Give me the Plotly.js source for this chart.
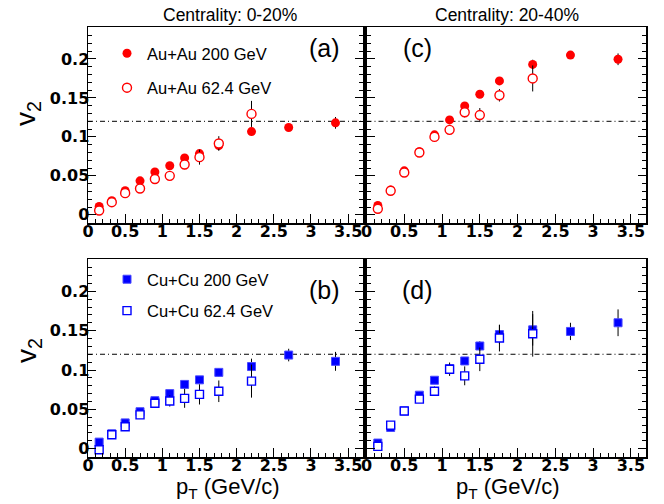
<!DOCTYPE html>
<html>
<head>
<meta charset="utf-8">
<script src="https://cdn.plot.ly/plotly-3.0.1.min.js"></script>
<style>
  html, body { margin: 0; padding: 0; background: #fff; }
  #chart { width: 664px; height: 504px; }
</style>
</head>
<body>
<div id="chart"></div>
<script>
// Transverse momentum bins (GeV/c)
const ptBins = [0.15, 0.32, 0.5, 0.7, 0.9, 1.1, 1.3, 1.5, 1.76, 2.2, 2.7, 3.33];
const ptBins62 = [0.15, 0.32, 0.5, 0.7, 0.9, 1.1, 1.3, 1.5, 1.76, 2.2];

// Au+Au, centrality 0-20%
const auau200_c020 = [0.0107, 0.018, 0.031, 0.0436, 0.055, 0.063, 0.073, 0.0786, 0.0889, 0.1068, 0.112, 0.118];
const auau200_c020_err = [0.001, 0.001, 0.001, 0.001, 0.0015, 0.002, 0.002, 0.003, 0.004, 0.005, 0.004, 0.0075];
const auau62_c020 = [0.0056, 0.0162, 0.0278, 0.0338, 0.046, 0.050, 0.0645, 0.074, 0.0915, 0.1295];
const auau62_c020_err = [0.001, 0.001, 0.0015, 0.002, 0.002, 0.003, 0.006, 0.0096, 0.0094, 0.0167];

// Au+Au, centrality 20-40%
const auau200_c2040 = [0.012, 0.032, 0.0564, 0.081, 0.1026, 0.1218, 0.1397, 0.1547, 0.1718, 0.193, 0.205, 0.1996];
const auau200_c2040_err = [0.001, 0.001, 0.001, 0.001, 0.0015, 0.002, 0.003, 0.003, 0.004, 0.006, 0.004, 0.0075];
const auau62_c2040 = [0.0077, 0.0308, 0.0543, 0.080, 0.100, 0.109, 0.1316, 0.128, 0.1534, 0.175];
const auau62_c2040_err = [0.001, 0.001, 0.0015, 0.002, 0.002, 0.003, 0.0066, 0.009, 0.008, 0.0167];

// Cu+Cu, centrality 0-20%
const cucu200_c020 = [0.0084, 0.019, 0.0328, 0.047, 0.061, 0.070, 0.0817, 0.0875, 0.097, 0.1044, 0.119, 0.111];
const cucu200_c020_err = [0.001, 0.001, 0.0015, 0.002, 0.002, 0.003, 0.003, 0.004, 0.005, 0.01, 0.008, 0.012];
const cucu62_c020 = [-0.0013, 0.0177, 0.028, 0.043, 0.0577, 0.0606, 0.064, 0.069, 0.073, 0.0859];
const cucu62_c020_err = [0.002, 0.002, 0.002, 0.003, 0.004, 0.007, 0.012, 0.0128, 0.0137, 0.021];

// Cu+Cu, centrality 20-40%
const cucu200_c2040 = [0.0072, 0.027, 0.048, 0.068, 0.087, 0.1018, 0.1115, 0.1305, 0.145, 0.151, 0.149, 0.16];
const cucu200_c2040_err = [0.002, 0.002, 0.002, 0.003, 0.003, 0.004, 0.005, 0.006, 0.012, 0.02, 0.011, 0.017];
const cucu62_c2040 = [0.003, 0.030, 0.048, 0.063, 0.073, 0.101, 0.0926, 0.1136, 0.1406, 0.146];
const cucu62_c2040_err = [0.003, 0.003, 0.003, 0.004, 0.006, 0.0085, 0.012, 0.015, 0.017, 0.029];

// Reference level drawn in every panel
const REF_V2 = 0.12;

const seriesNames = ['Au+Au 200 GeV', 'Au+Au 62.4 GeV', 'Cu+Cu 200 GeV', 'Cu+Cu 62.4 GeV'];
const centralityTitles = ['Centrality: 0-20%', 'Centrality: 20-40%'];
const panelTags = ['(a)', '(c)', '(b)', '(d)'];

const RED = '#ff0000';
const BLUE = '#0000ff';

function errBars(arr) {
  return { type: 'data', array: arr, visible: true, color: '#000', thickness: 1, width: 0 };
}

function filled(x, y, err, xa, ya, name, symbol, color, size, legend, show, group) {
  return {
    type: 'scatter', mode: 'markers', x: x, y: y, xaxis: xa, yaxis: ya,
    name: name, legend: legend, showlegend: show, legendgroup: group,
    error_y: errBars(err),
    marker: { symbol: symbol, size: size, color: color,
              line: { width: symbol === 'square' ? 1 : 0, color: '#4a4aff' } },
    hoverinfo: 'x+y'
  };
}

function hollow(x, y, err, xa, ya, name, symbol, color, size, legend, show, group) {
  return {
    type: 'scatter', mode: 'markers', x: x, y: y, xaxis: xa, yaxis: ya,
    name: name, legend: legend, showlegend: show, legendgroup: group,
    error_y: errBars(err),
    marker: { symbol: symbol, size: size, color: '#ffffff',
              line: { width: 1.4, color: color } },
    hoverinfo: 'x+y'
  };
}

const traces = [
  // (a) Au+Au 0-20%
  filled(ptBins, auau200_c020, auau200_c020_err, 'x', 'y', seriesNames[0], 'circle', RED, 9, 'legend', true, 'g1'),
  hollow(ptBins62, auau62_c020, auau62_c020_err, 'x', 'y', seriesNames[1], 'circle', RED, 9, 'legend', true, 'g2'),
  // (c) Au+Au 20-40%
  filled(ptBins, auau200_c2040, auau200_c2040_err, 'x2', 'y2', seriesNames[0], 'circle', RED, 9, 'legend', false, 'g1'),
  hollow(ptBins62, auau62_c2040, auau62_c2040_err, 'x2', 'y2', seriesNames[1], 'circle', RED, 9, 'legend', false, 'g2'),
  // (b) Cu+Cu 0-20%
  filled(ptBins, cucu200_c020, cucu200_c020_err, 'x3', 'y3', seriesNames[2], 'square', BLUE, 8, 'legend2', true, 'g3'),
  hollow(ptBins62, cucu62_c020, cucu62_c020_err, 'x3', 'y3', seriesNames[3], 'square', BLUE, 8, 'legend2', true, 'g4'),
  // (d) Cu+Cu 20-40%
  filled(ptBins, cucu200_c2040, cucu200_c2040_err, 'x4', 'y4', seriesNames[2], 'square', BLUE, 8, 'legend2', false, 'g3'),
  hollow(ptBins62, cucu62_c2040, cucu62_c2040_err, 'x4', 'y4', seriesNames[3], 'square', BLUE, 8, 'legend2', false, 'g4')
];

const W = 664, H = 504;
const px = v => v / W;
const py = v => 1 - v / H;

const tickFont = { family: 'DejaVu Sans', size: 16, color: '#000', weight: 700 };

function xAxis(domain, anchor) {
  return {
    domain: domain, anchor: anchor, range: [0, 3.7],
    showgrid: false, zeroline: false,
    showline: true, linecolor: '#000', linewidth: 1.5, mirror: true,
    ticks: 'inside', ticklen: 9, tickwidth: 1, tickcolor: '#000',
    tick0: 0, dtick: 0.5,
    minor: { ticks: 'inside', ticklen: 4, dtick: 0.1, tickcolor: '#000', tickwidth: 1 },
    tickfont: tickFont, ticklabelstandoff: -7, fixedrange: true
  };
}

function yAxis(domain, anchor, showLabels) {
  return {
    domain: domain, anchor: anchor, range: [-0.0105, 0.241],
    showgrid: false, zeroline: false,
    showline: true, linecolor: '#000', linewidth: 1.5, mirror: 'ticks',
    ticks: 'inside', ticklen: 8, tickwidth: 1, tickcolor: '#000',
    tick0: 0, dtick: 0.05,
    minor: { ticks: 'inside', ticklen: 4, dtick: 0.01, tickcolor: '#000', tickwidth: 1 },
    showticklabels: showLabels, tickfont: tickFont, ticklabelstandoff: -6, fixedrange: true
  };
}

const colL = [px(88), px(363)];
const colR = [px(366.5), px(646)];
const rowT = [py(223), py(27)];
const rowB = [py(457), py(259)];

function refLine(xa, ya) {
  return {
    type: 'line', layer: 'below', xref: xa + ' domain', yref: ya,
    x0: 0, x1: 1, y0: REF_V2, y1: REF_V2,
    line: { color: '#000', width: 1, dash: '5px,3px,1px,3px' }
  };
}

function txt(x, y, text, size, extra) {
  return Object.assign({
    xref: 'paper', yref: 'paper', x: px(x), y: py(y), text: text,
    showarrow: false, xanchor: 'center', yanchor: 'middle',
    font: { family: 'Liberation Sans, Arial, sans-serif', size: size, color: '#000' }
  }, extra || {});
}

const annotations = [
  txt(230, 15, centralityTitles[0], 17.5),
  txt(507, 15, centralityTitles[1], 17.5),
  txt(324, 48, panelTags[0], 25),
  txt(417, 48, panelTags[1], 25),
  txt(324, 290, panelTags[2], 25),
  txt(417, 290, panelTags[3], 25),
  txt(28, 113, 'v<sub>2</sub>', 28, { textangle: -90 }),
  txt(28, 350, 'v<sub>2</sub>', 28, { textangle: -90 }),
  txt(228, 488, 'p<sub>T</sub> (GeV/c)', 22),
  txt(508, 488, 'p<sub>T</sub> (GeV/c)', 22)
];

const legendFont = { family: 'Liberation Sans, Arial, sans-serif', size: 16.5, color: '#000' };

const layout = {
  width: W, height: H,
  margin: { l: 0, r: 0, t: 0, b: 0 },
  paper_bgcolor: '#fff', plot_bgcolor: '#fff',
  showlegend: true,
  legend: {
    x: px(107), y: py(36), xanchor: 'left', yanchor: 'top',
    bgcolor: 'rgba(0,0,0,0)', borderwidth: 0, font: legendFont,
    traceorder: 'grouped', tracegroupgap: 10
  },
  legend2: {
    x: px(107), y: py(262), xanchor: 'left', yanchor: 'top',
    bgcolor: 'rgba(0,0,0,0)', borderwidth: 0, font: legendFont,
    traceorder: 'grouped', tracegroupgap: 7
  },
  xaxis: xAxis(colL, 'y'),
  yaxis: yAxis(rowT, 'x', true),
  xaxis2: xAxis(colR, 'y2'),
  yaxis2: yAxis(rowT, 'x2', false),
  xaxis3: xAxis(colL, 'y3'),
  yaxis3: yAxis(rowB, 'x3', true),
  xaxis4: xAxis(colR, 'y4'),
  yaxis4: yAxis(rowB, 'x4', false),
  shapes: [refLine('x', 'y'), refLine('x2', 'y2'), refLine('x3', 'y3'), refLine('x4', 'y4')],
  annotations: annotations
};

Plotly.newPlot('chart', traces, layout, { displayModeBar: false, staticPlot: true });
</script>
</body>
</html>
